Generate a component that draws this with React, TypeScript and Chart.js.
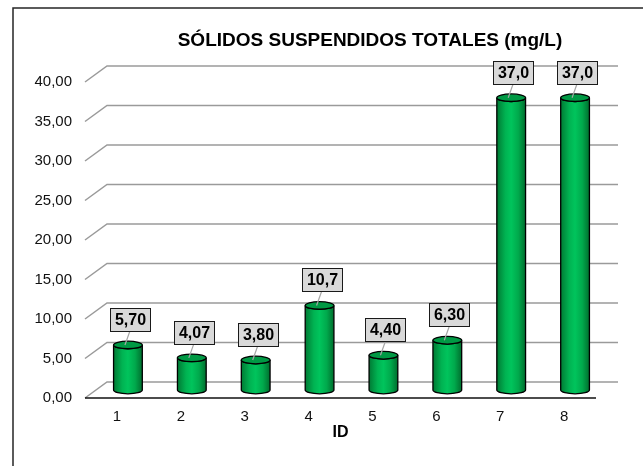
import React, { useEffect, useRef } from 'react';
import { Chart, registerables } from 'chart.js';

Chart.register(...registerables);

const categories = ['1', '2', '3', '4', '5', '6', '7', '8'];
const values = [5.7, 4.07, 3.8, 10.7, 4.4, 6.3, 37.0, 37.0];
const valueLabels = ['5,70', '4,07', '3,80', '10,7', '4,40', '6,30', '37,0', '37,0'];
const yMin = 0;
const yMax = 40;
const yStep = 5;
const chartTitle = 'SÓLIDOS SUSPENDIDOS TOTALES (mg/L)';
const xAxisTitle = 'ID';

const FONT = '"Liberation Sans", Arial, sans-serif';
const DEPTH_X = 22;
const DEPTH_Y = -16;

const cylinderPlugin = {
  id: 'cylinder3d',
  beforeDraw(chart: any) {
    const { ctx, width, height } = chart;
    ctx.save();
    ctx.fillStyle = '#ffffff';
    ctx.fillRect(0, 0, width, height);
    ctx.strokeStyle = '#262626';
    ctx.lineWidth = 1.5;
    ctx.beginPath();
    ctx.moveTo(13, height + 2);
    ctx.lineTo(13, 8);
    ctx.lineTo(width + 2, 8);
    ctx.stroke();
    // title
    ctx.fillStyle = '#000';
    ctx.font = `bold 19px ${FONT}`;
    ctx.textAlign = 'center';
    ctx.textBaseline = 'middle';
    ctx.fillText(chartTitle, 370, 41);
    ctx.restore();
  },
  beforeDatasetsDraw(chart: any) {
    const { ctx, chartArea } = chart;
    const y = chart.scales.y;
    ctx.save();
    ctx.strokeStyle = '#9a9a9a';
    ctx.lineWidth = 1.5;
    y.ticks.forEach((t: any) => {
      const py = y.getPixelForValue(t.value);
      ctx.beginPath();
      ctx.moveTo(chartArea.left, py);
      ctx.lineTo(chartArea.left + DEPTH_X, py + DEPTH_Y);
      ctx.lineTo(chartArea.right + DEPTH_X, py + DEPTH_Y);
      ctx.stroke();
    });
    const p0 = y.getPixelForValue(0);
    ctx.strokeStyle = '#111';
    ctx.lineWidth = 1.5;
    ctx.beginPath();
    ctx.moveTo(chartArea.left, p0);
    ctx.lineTo(chartArea.right, p0);
    ctx.stroke();
    ctx.restore();
  },
  afterDatasetsDraw(chart: any) {
    const { ctx } = chart;
    const meta = chart.getDatasetMeta(0);
    ctx.save();
    const ry = 3.8;
    const tops: { cx: number; top: number }[] = [];
    meta.data.forEach((el: any) => {
      const cx = el.x + DEPTH_X / 2;
      const rx = el.width / 2;
      const top = el.y + DEPTH_Y / 2;
      const base = el.base + DEPTH_Y / 2;
      tops.push({ cx, top });
      const g = ctx.createLinearGradient(cx - rx, 0, cx + rx, 0);
      g.addColorStop(0, '#007a34');
      g.addColorStop(0.3, '#00b352');
      g.addColorStop(0.5, '#00c45c');
      g.addColorStop(0.75, '#00a94c');
      g.addColorStop(1, '#006e2e');
      ctx.beginPath();
      ctx.moveTo(cx - rx, top);
      ctx.lineTo(cx - rx, base);
      ctx.ellipse(cx, base, rx, ry, 0, Math.PI, 0, true);
      ctx.lineTo(cx + rx, top);
      ctx.ellipse(cx, top, rx, ry, 0, 0, Math.PI, false);
      ctx.closePath();
      ctx.fillStyle = g;
      ctx.fill();
      ctx.strokeStyle = '#000';
      ctx.lineWidth = 1.3;
      ctx.stroke();
      ctx.beginPath();
      ctx.ellipse(cx, top, rx, ry, 0, 0, Math.PI * 2);
      ctx.fillStyle = '#009944';
      ctx.fill();
      ctx.stroke();
    });
    // data labels
    ctx.font = `bold 16px ${FONT}`;
    ctx.textAlign = 'center';
    ctx.textBaseline = 'middle';
    tops.forEach(({ cx, top }, i) => {
      const text = valueLabels[i];
      const tw = ctx.measureText(text).width;
      const bw = Math.round(tw + 9);
      const bh = 23;
      const bcx = cx + 2;
      const bBottom = top - 14;
      const bTop = bBottom - bh;
      ctx.strokeStyle = '#a6a6a6';
      ctx.lineWidth = 1.2;
      ctx.beginPath();
      ctx.moveTo(bcx, bBottom);
      ctx.lineTo(cx - 3, top);
      ctx.stroke();
      const bx = Math.round(bcx - bw / 2) + 0.5;
      const by = Math.round(bTop) + 0.5;
      ctx.fillStyle = '#d9d9d9';
      ctx.fillRect(bx, by, bw, bh);
      ctx.strokeStyle = '#1a1a1a';
      ctx.lineWidth = 1;
      ctx.strokeRect(bx, by, bw, bh);
      ctx.fillStyle = '#000';
      ctx.fillText(text, bx + bw / 2, by + bh / 2 + 1);
    });
    ctx.restore();
  },
};

export default function App() {
  const ref = useRef<HTMLCanvasElement | null>(null);
  useEffect(() => {
    document.body.style.margin = '0';
    const canvas = ref.current;
    if (!canvas) return;
    const chart = new Chart(canvas, {
      type: 'bar',
      data: {
        labels: categories,
        datasets: [
          {
            data: values,
            backgroundColor: 'rgba(0,0,0,0)',
            borderWidth: 0,
            barPercentage: 0.45,
            categoryPercentage: 1,
          },
        ],
      },
      options: {
        responsive: false,
        animation: false,
        devicePixelRatio: 1,
        layout: { padding: { top: 82, right: 47, left: 0, bottom: 0 } },
        plugins: { legend: { display: false }, tooltip: { enabled: false } },
        scales: {
          x: {
            grid: { display: false, drawTicks: false },
            border: { display: false },
            ticks: { color: '#111', font: { family: FONT, size: 15 }, padding: 10 },
            title: {
              display: true,
              text: xAxisTitle,
              color: '#000',
              font: { family: FONT, size: 16, weight: 'bold' },
              padding: { top: 0, bottom: 24 },
            },
            afterFit(scale: any) {
              scale.height = 68;
            },
          },
          y: {
            min: yMin,
            max: yMax,
            grid: { display: false, drawTicks: false },
            border: { display: false },
            ticks: {
              stepSize: yStep,
              color: '#111',
              font: { family: FONT, size: 15 },
              padding: 13,
              callback: (v: any) => Number(v).toFixed(2).replace('.', ','),
            },
            afterFit(scale: any) {
              scale.width = 85;
            },
          },
        },
      },
      plugins: [cylinderPlugin],
    });
    return () => chart.destroy();
  }, []);
  return (
    <div style={{ width: 643, height: 466, position: 'relative' }}>
      <canvas ref={ref} width={643} height={466} style={{ display: 'block', width: 643, height: 466 }} />
    </div>
  );
}
